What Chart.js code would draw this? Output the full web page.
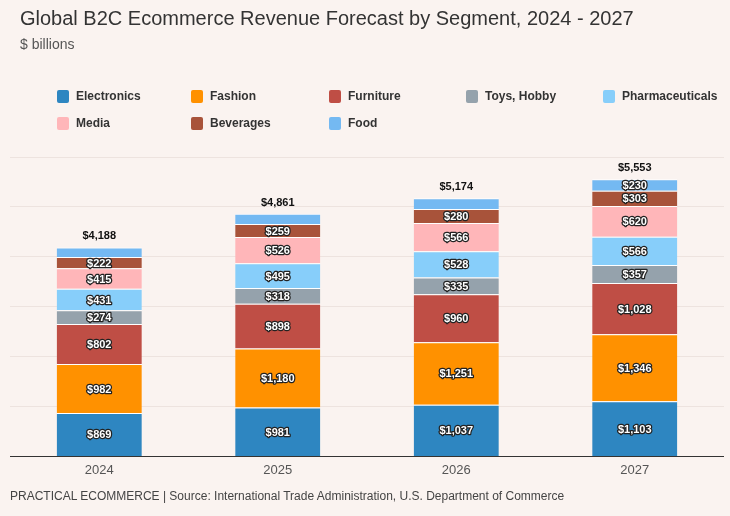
<!DOCTYPE html>
<html>
<head>
<meta charset="utf-8">
<script src="https://cdn.jsdelivr.net/npm/chart.js@4"></script>
<style>
  html, body { margin: 0; padding: 0; }
  body {
    width: 730px; height: 516px; position: relative; overflow: hidden;
    background: #faf3f0; font-family: "Liberation Sans", Arial, sans-serif;
  }
  #chart { position: absolute; left: 0; top: 0; }
  .title { position: absolute; left: 20px; top: 7px; font-size: 20px; color: #333; white-space: nowrap; }
  .subtitle { position: absolute; left: 20px; top: 36px; font-size: 14px; color: #555; }
  .legend-item { position: absolute; display: flex; align-items: center; font-size: 12px; font-weight: bold; color: #333; white-space: nowrap; }
  .legend-item span.box { width: 12px; height: 13px; border-radius: 2px; margin-right: 7px; display: inline-block; }
  .source { position: absolute; left: 10px; top: 489px; font-size: 12px; color: #444; white-space: nowrap; }
</style>
</head>
<body>
<canvas id="chart" width="730" height="516"></canvas>
<div class="title">Global B2C Ecommerce Revenue Forecast by Segment, 2024 - 2027</div>
<div class="subtitle">$ billions</div>
<div id="legend"></div>
<div class="source">PRACTICAL ECOMMERCE | Source: International Trade Administration, U.S. Department of Commerce</div>
<script>
const years = ['2024', '2025', '2026', '2027'];

const segments = ['Electronics', 'Fashion', 'Furniture', 'Toys, Hobby', 'Pharmaceuticals', 'Media', 'Beverages', 'Food'];

const electronics = [869, 981, 1037, 1103];
const fashion = [982, 1180, 1251, 1346];
const furniture = [802, 898, 960, 1028];
const toysHobby = [274, 318, 335, 357];
const pharmaceuticals = [431, 495, 528, 566];
const media = [415, 526, 566, 620];
const beverages = [222, 259, 280, 303];
const food = [193, 204, 217, 230];

const yTicks = [0, 1000, 2000, 3000, 4000, 5000, 6000];

const seriesValues = [electronics, fashion, furniture, toysHobby, pharmaceuticals, media, beverages, food];

const colors = ['#2e86c1', '#ff9100', '#bf4e45', '#95a2ac', '#87cefa', '#ffb6b9', '#a8533a', '#74b9f2'];

// legend, laid out as a fixed grid like the original
const legendSlots = [
    [57, 96], [191, 96], [329, 96], [466, 96], [603, 96],
    [57, 123], [191, 123], [329, 123]
];
const legendEl = document.getElementById('legend');
segments.forEach((name, i) => {
    const item = document.createElement('div');
    item.className = 'legend-item';
    item.style.left = legendSlots[i][0] + 'px';
    item.style.top = (legendSlots[i][1] - 8) + 'px';
    item.style.height = '16px';
    item.innerHTML = '<span class="box" style="background:' + colors[i] + '"></span>' + name;
    legendEl.appendChild(item);
});

const money = (v) => '$' + v.toLocaleString('en-US');

const segmentLabels = {
    id: 'segment_labels',
    afterDatasetsDraw: (chart) => {
        const ctx = chart.ctx;
        ctx.save();
        ctx.font = 'bold 11px "Liberation Sans", Arial, sans-serif';
        ctx.textAlign = 'center';
        ctx.textBaseline = 'middle';
        ctx.lineJoin = 'round';
        chart.data.datasets.forEach((ds, di) => {
            const meta = chart.getDatasetMeta(di);
            meta.data.forEach((bar, i) => {
                const v = ds.data[i];
                if (v < 220) return;
                const yMid = (bar.y + bar.base) / 2 + 1;
                ctx.lineWidth = 2.5;
                ctx.strokeStyle = '#222';
                ctx.strokeText(money(v), bar.x, yMid);
                ctx.fillStyle = '#fff';
                ctx.fillText(money(v), bar.x, yMid);
            });
        });

        // totals above each bar
        const yScale = chart.scales.y;
        const xScale = chart.scales.x;
        ctx.font = 'bold 11px "Liberation Sans", Arial, sans-serif';
        ctx.fillStyle = '#111';
        years.forEach((yr, i) => {
            const total = seriesValues.reduce((s, arr) => s + arr[i], 0);
            const y = yScale.getPixelForValue(total) - 11;
            ctx.fillText(money(total), xScale.getPixelForValue(i), y);
        });
        ctx.restore();
    }
};

const data = {
    labels: years,
    datasets: segments.map((name, i) => ({
        label: name,
        data: seriesValues[i],
        backgroundColor: colors[i],
        borderColor: '#ffffff',
        borderWidth: { top: 1, bottom: 0, left: 0, right: 0 },
        borderSkipped: false,
        barPercentage: 0.477,
        categoryPercentage: 1
    }))
};

const config = {
    type: 'bar',
    data: data,
    plugins: [segmentLabels],
    options: {
        responsive: false,
        animation: false,
        layout: {
            padding: { top: 157, left: 10, right: 6, bottom: 32 }
        },
        plugins: {
            legend: { display: false },
            title: { display: false },
            tooltip: { enabled: false }
        },
        scales: {
            x: {
                stacked: true,
                grid: { display: false, drawTicks: false, tickLength: 0 },
                border: { display: false },
                ticks: {
                    color: '#555',
                    padding: 6,
                    font: { family: '"Liberation Sans", Arial, sans-serif', size: 13 }
                }
            },
            y: {
                stacked: true,
                min: yTicks[0],
                max: yTicks[yTicks.length - 1],
                afterBuildTicks: (scale) => { scale.ticks = yTicks.map(v => ({ value: v })); },
                ticks: { display: false },
                border: { display: false },
                grid: {
                    drawTicks: false,
                    color: (c) => c.tick && c.tick.value === 0 ? '#333' : '#ede3df',
                    lineWidth: 1
                },
                afterFit: (scale) => { scale.width = 0; }
            }
        }
    }
};

new Chart(document.getElementById('chart'), config);
</script>
</body>
</html>
